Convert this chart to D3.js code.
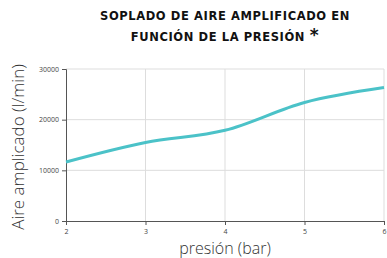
<!DOCTYPE html>
<html>
<head>
<meta charset="utf-8">
<script src="https://cdn.jsdelivr.net/npm/d3@7"></script>
<style>
  body { margin: 0; background: #fff; }
</style>
</head>
<body>
<div id="chart"></div>
<script>
const presion = [2, 3, 4, 5, 6];
const aire = [11650, 15500, 17900, 23400, 26350];
const xTicks = [2, 3, 4, 5, 6];
const yTicks = [0, 10000, 20000, 30000];

const W = 387, H = 258;
const margin = { top: 69, right: 3, bottom: 37, left: 66 };
const width = W - margin.left - margin.right;
const height = H - margin.top - margin.bottom;

const svg = d3.select('#chart').append('svg')
  .attr('width', W).attr('height', H)
  .style('font-family', '"Open Sans", sans-serif');

// title
const title = svg.append('text')
  .attr('text-anchor', 'middle')
  .style('font-family', '"DejaVu Sans", sans-serif')
  .style('font-weight', 'bold')
  .style('font-size', '11.5px')
  .style('letter-spacing', '0.6px')
  .attr('fill', '#111');
title.append('tspan').attr('x', 225).attr('y', 20).text('SOPLADO DE AIRE AMPLIFICADO EN');
title.append('tspan').attr('x', 225).attr('y', 41).text('FUNCIÓN DE LA PRESIÓN ')
  .append('tspan').style('font-size', '17px').text('*');

const g = svg.append('g')
  .attr('transform', 'translate(' + margin.left + ',' + margin.top + ')');

const x = d3.scaleLinear().domain([2, 6]).range([0, width]);
const y = d3.scaleLinear().domain([0, 30000]).range([height, 0]);

// grid
g.append('g').selectAll('line').data(yTicks.slice(1)).enter().append('line')
  .attr('x1', 0).attr('x2', width)
  .attr('y1', d => y(d)).attr('y2', d => y(d))
  .attr('stroke', '#ddd').attr('stroke-width', 1);
g.append('g').selectAll('line').data(xTicks.slice(1)).enter().append('line')
  .attr('x1', d => x(d)).attr('x2', d => x(d))
  .attr('y1', 0).attr('y2', height)
  .attr('stroke', '#ddd').attr('stroke-width', 1);

// axes
const xAxis = g.append('g')
  .attr('transform', 'translate(0,' + height + ')')
  .call(d3.axisBottom(x).tickValues(xTicks).tickFormat(d3.format('d')).tickSizeOuter(0).tickSize(4));
const yAxis = g.append('g')
  .call(d3.axisLeft(y).tickValues(yTicks).tickFormat(d3.format('d')).tickSizeOuter(0).tickSize(4));
[xAxis, yAxis].forEach(a => {
  a.select('.domain').attr('stroke', '#555');
  a.selectAll('.tick line').attr('stroke', '#555');
  a.selectAll('.tick text').attr('fill', '#444')
    .style('font-size', '7px')
    .style('font-family', '"Open Sans", sans-serif');
});
xAxis.selectAll('.tick text').attr('dy', '0.9em');

// line
const line = d3.line()
  .x((d, i) => x(presion[i]))
  .y(d => y(d))
  .curve(d3.curveMonotoneX);
g.append('path')
  .datum(aire)
  .attr('d', line)
  .attr('fill', 'none')
  .attr('stroke', '#4bc2c8')
  .attr('stroke-width', 3);

// axis labels
svg.append('text')
  .attr('x', 225).attr('y', 254)
  .attr('text-anchor', 'middle')
  .style('font-size', '16px')
  .style('font-weight', 300)
  .attr('fill', '#333')
  .text('presión (bar)');
svg.append('text')
  .attr('transform', 'translate(24,147) rotate(-90)')
  .attr('text-anchor', 'middle')
  .style('font-size', '17px')
  .style('font-weight', 300)
  .attr('fill', '#333')
  .text('Aire amplicado (l/min)');
</script>
</body>
</html>
